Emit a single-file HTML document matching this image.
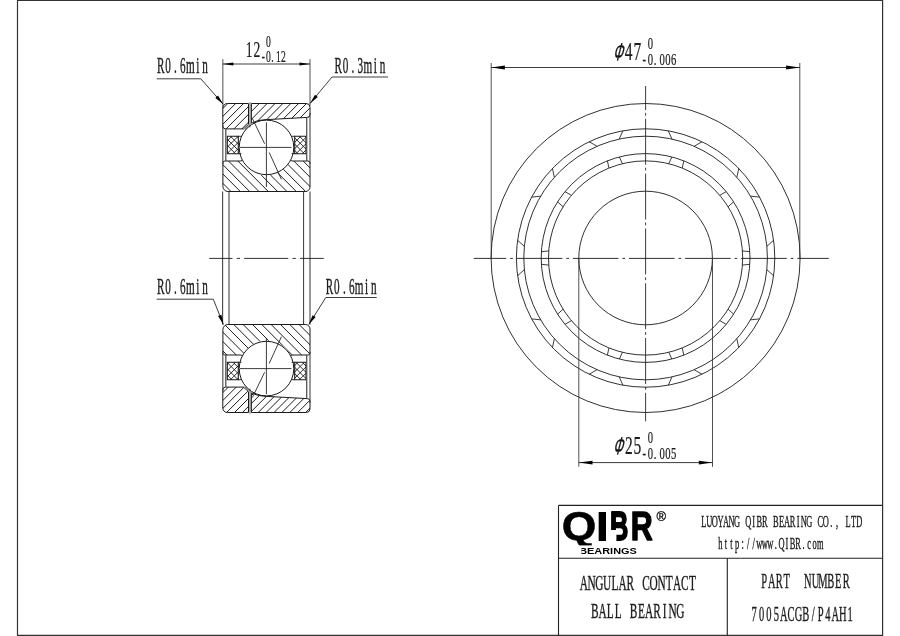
<!DOCTYPE html>
<html lang="en"><head><meta charset="utf-8"><title>7005ACGB/P4AH1 Angular Contact Ball Bearing</title>
<style>html,body{margin:0;padding:0;background:#fff;overflow:hidden}svg{display:block}text{white-space:pre}</style></head><body>
<svg width="900" height="636" viewBox="0 0 900 636" style="filter:grayscale(1)">
<rect width="900" height="636" fill="#fff"/>
<g id="frame">
<path d="M17.5,0.5 H882.6 V635.3 H17.5 Z" stroke="#333" stroke-width="1.2" fill="none" />
<line x1="558.5" y1="505.4" x2="882.6" y2="505.4" stroke="#222" stroke-width="1.1" />
<line x1="558.5" y1="505.4" x2="558.5" y2="635.3" stroke="#222" stroke-width="1.1" />
<line x1="558.5" y1="558.3" x2="882.6" y2="558.3" stroke="#222" stroke-width="1.1" />
<line x1="727.3" y1="558.3" x2="727.3" y2="635.3" stroke="#222" stroke-width="1.1" />
</g>
<g id="side">
<defs><clipPath id="cot"><path d="M222.8,108 A4.5,4.5 0 0 1 227.3,103.5 H248.5 V124.3 L243.5,128.9 H225.6 A2.8,2.8 0 0 1 222.8,126.1 Z M251.4,103.5 H306.2 A3.8,3.8 0 0 1 310,107.3 V114.6 A2.8,2.8 0 0 1 307.2,117.4 L263.5,119.8 A29,29 0 0 0 251.4,123.2 Z"/></clipPath><clipPath id="cit"><path d="M222.9,163 A2,2 0 0 1 224.9,161 H240.2 L242.2,160.6 A27.3,27.3 0 0 0 290.8,160.6 L292.8,161 H308 A2,2 0 0 1 310,163 V187 A4.5,4.5 0 0 1 305.5,191.5 H227.9 A5,5 0 0 1 222.9,186.5 Z"/></clipPath><clipPath id="cct"><path d="M227.3,136.3 H238.3 V153.7 H227.3 Z M294.7,136.3 H306 V153.7 H294.7 Z"/></clipPath></defs>
<g clip-path="url(#cot)" stroke="#111" stroke-width="0.95">
<line x1="215.59" y1="100" x2="183.59" y2="132"/>
<line x1="223.46" y1="100" x2="191.46" y2="132"/>
<line x1="231.33" y1="100" x2="199.33" y2="132"/>
<line x1="239.2" y1="100" x2="207.2" y2="132"/>
<line x1="247.07" y1="100" x2="215.07" y2="132"/>
<line x1="254.94" y1="100" x2="222.94" y2="132"/>
<line x1="262.81" y1="100" x2="230.81" y2="132"/>
<line x1="270.68" y1="100" x2="238.68" y2="132"/>
<line x1="278.55" y1="100" x2="246.55" y2="132"/>
<line x1="286.42" y1="100" x2="254.42" y2="132"/>
<line x1="294.29" y1="100" x2="262.29" y2="132"/>
<line x1="302.16" y1="100" x2="270.16" y2="132"/>
<line x1="310.03" y1="100" x2="278.03" y2="132"/>
<line x1="317.9" y1="100" x2="285.9" y2="132"/>
<line x1="325.77" y1="100" x2="293.77" y2="132"/>
<line x1="333.64" y1="100" x2="301.64" y2="132"/>
<line x1="341.51" y1="100" x2="309.51" y2="132"/>
</g>
<g clip-path="url(#cit)" stroke="#111" stroke-width="0.95">
<line x1="178.84" y1="158" x2="214.84" y2="194"/>
<line x1="188.17" y1="158" x2="224.17" y2="194"/>
<line x1="197.5" y1="158" x2="233.5" y2="194"/>
<line x1="206.83" y1="158" x2="242.83" y2="194"/>
<line x1="216.16" y1="158" x2="252.16" y2="194"/>
<line x1="225.49" y1="158" x2="261.49" y2="194"/>
<line x1="234.82" y1="158" x2="270.82" y2="194"/>
<line x1="244.15" y1="158" x2="280.15" y2="194"/>
<line x1="253.48" y1="158" x2="289.48" y2="194"/>
<line x1="262.81" y1="158" x2="298.81" y2="194"/>
<line x1="272.14" y1="158" x2="308.14" y2="194"/>
<line x1="281.47" y1="158" x2="317.47" y2="194"/>
<line x1="290.8" y1="158" x2="326.8" y2="194"/>
<line x1="300.13" y1="158" x2="336.13" y2="194"/>
<line x1="309.46" y1="158" x2="345.46" y2="194"/>
</g>
<g clip-path="url(#cct)" stroke="#1a1a1a" stroke-width="0.9">
<line x1="203.4" y1="134" x2="225.4" y2="156"/>
<line x1="221.8" y1="134" x2="199.8" y2="156"/>
<line x1="209.6" y1="134" x2="231.6" y2="156"/>
<line x1="228" y1="134" x2="206" y2="156"/>
<line x1="215.8" y1="134" x2="237.8" y2="156"/>
<line x1="234.2" y1="134" x2="212.2" y2="156"/>
<line x1="222" y1="134" x2="244" y2="156"/>
<line x1="240.4" y1="134" x2="218.4" y2="156"/>
<line x1="228.2" y1="134" x2="250.2" y2="156"/>
<line x1="246.6" y1="134" x2="224.6" y2="156"/>
<line x1="234.4" y1="134" x2="256.4" y2="156"/>
<line x1="252.8" y1="134" x2="230.8" y2="156"/>
<line x1="240.6" y1="134" x2="262.6" y2="156"/>
<line x1="259" y1="134" x2="237" y2="156"/>
<line x1="246.8" y1="134" x2="268.8" y2="156"/>
<line x1="265.2" y1="134" x2="243.2" y2="156"/>
<line x1="253" y1="134" x2="275" y2="156"/>
<line x1="271.4" y1="134" x2="249.4" y2="156"/>
<line x1="259.2" y1="134" x2="281.2" y2="156"/>
<line x1="265.3" y1="134" x2="243.3" y2="156"/>
<line x1="253.1" y1="134" x2="275.1" y2="156"/>
<line x1="271.6" y1="134" x2="249.6" y2="156"/>
<line x1="259.4" y1="134" x2="281.4" y2="156"/>
<line x1="277.9" y1="134" x2="255.9" y2="156"/>
<line x1="265.7" y1="134" x2="287.7" y2="156"/>
<line x1="284.2" y1="134" x2="262.2" y2="156"/>
<line x1="272" y1="134" x2="294" y2="156"/>
<line x1="290.5" y1="134" x2="268.5" y2="156"/>
<line x1="278.3" y1="134" x2="300.3" y2="156"/>
<line x1="296.8" y1="134" x2="274.8" y2="156"/>
<line x1="284.6" y1="134" x2="306.6" y2="156"/>
<line x1="303.1" y1="134" x2="281.1" y2="156"/>
<line x1="290.9" y1="134" x2="312.9" y2="156"/>
<line x1="309.4" y1="134" x2="287.4" y2="156"/>
<line x1="297.2" y1="134" x2="319.2" y2="156"/>
<line x1="315.7" y1="134" x2="293.7" y2="156"/>
<line x1="303.5" y1="134" x2="325.5" y2="156"/>
<line x1="322" y1="134" x2="300" y2="156"/>
<line x1="309.8" y1="134" x2="331.8" y2="156"/>
<line x1="328.3" y1="134" x2="306.3" y2="156"/>
</g>
<g fill="none" stroke="#1a1a1a" stroke-width="1">
<path d="M222.8,108 A4.5,4.5 0 0 1 227.3,103.5 H248.5 V124.3 L243.5,128.9 H225.6 A2.8,2.8 0 0 1 222.8,126.1 Z"/><path d="M251.4,103.5 H306.2 A3.8,3.8 0 0 1 310,107.3 V114.6 A2.8,2.8 0 0 1 307.2,117.4 L263.5,119.8 A29,29 0 0 0 251.4,123.2 Z"/><path d="M242.2,160.6 L240.2,161 H224.9 A2,2 0 0 0 222.9,163 V186.5 A5,5 0 0 0 227.9,191.5 H305.5 A4.5,4.5 0 0 0 310,187 V163 A2,2 0 0 0 308,161 H292.8 L290.8,160.6"/>
<path d="M227.3,136.3 H238.3 V153.7 H227.3 Z" stroke-width="1.1"/><path d="M294.7,136.3 H306 V153.7 H294.7 Z" stroke-width="1.1"/>
<path d="M238.3,136.3 H241.4 M238.3,153.7 H241.4 M291.6,136.3 H294.7 M291.6,153.7 H294.7" stroke-width="0.9"/>
<path d="M225.8,128.9 V161 M306.7,117.4 V161" stroke="#555" stroke-width="1.3"/>
<path d="M222.85,125 V164 M310,113 V164" stroke="#333" stroke-width="1"/>
<path d="M250,102.3 V127.4" stroke-width="0.7"/>
<path d="M244.6,129.6 L249.4,125.2" stroke-width="0.7"/>
<circle cx="266.5" cy="147.4" r="27.3"/>
<path d="M240,147.4 H291.5 M266.4,122.3 V187" stroke-width="0.85"/>
<path d="M252.4,118.5 L264.6,143.7 M269.2,152.5 L281.4,179.3" stroke-width="0.85"/>
</g>
<defs><clipPath id="cob"><path d="M222.8,108 A4.5,4.5 0 0 1 227.3,103.5 H248.5 V124.3 L243.5,128.9 H225.6 A2.8,2.8 0 0 1 222.8,126.1 Z M251.4,103.5 H306.2 A3.8,3.8 0 0 1 310,107.3 V114.6 A2.8,2.8 0 0 1 307.2,117.4 L263.5,119.8 A29,29 0 0 0 251.4,123.2 Z" transform="translate(0,516) scale(1,-1)"/></clipPath><clipPath id="cib"><path d="M222.9,163 A2,2 0 0 1 224.9,161 H240.2 L242.2,160.6 A27.3,27.3 0 0 0 290.8,160.6 L292.8,161 H308 A2,2 0 0 1 310,163 V187 A4.5,4.5 0 0 1 305.5,191.5 H227.9 A5,5 0 0 1 222.9,186.5 Z" transform="translate(0,516) scale(1,-1)"/></clipPath><clipPath id="ccb"><path d="M227.3,136.3 H238.3 V153.7 H227.3 Z M294.7,136.3 H306 V153.7 H294.7 Z" transform="translate(0,516) scale(1,-1)"/></clipPath></defs>
<g clip-path="url(#cob)" stroke="#111" stroke-width="0.95">
<line x1="215.6" y1="384" x2="183.6" y2="416"/>
<line x1="223.5" y1="384" x2="191.5" y2="416"/>
<line x1="231.4" y1="384" x2="199.4" y2="416"/>
<line x1="239.3" y1="384" x2="207.3" y2="416"/>
<line x1="247.2" y1="384" x2="215.2" y2="416"/>
<line x1="255.1" y1="384" x2="223.1" y2="416"/>
<line x1="263" y1="384" x2="231" y2="416"/>
<line x1="270.9" y1="384" x2="238.9" y2="416"/>
<line x1="278.8" y1="384" x2="246.8" y2="416"/>
<line x1="286.7" y1="384" x2="254.7" y2="416"/>
<line x1="294.6" y1="384" x2="262.6" y2="416"/>
<line x1="302.5" y1="384" x2="270.5" y2="416"/>
<line x1="310.4" y1="384" x2="278.4" y2="416"/>
<line x1="318.3" y1="384" x2="286.3" y2="416"/>
<line x1="326.2" y1="384" x2="294.2" y2="416"/>
<line x1="334.1" y1="384" x2="302.1" y2="416"/>
<line x1="342" y1="384" x2="310" y2="416"/>
</g>
<g clip-path="url(#cib)" stroke="#111" stroke-width="0.95">
<line x1="184.65" y1="322" x2="220.65" y2="358"/>
<line x1="193.98" y1="322" x2="229.98" y2="358"/>
<line x1="203.31" y1="322" x2="239.31" y2="358"/>
<line x1="212.64" y1="322" x2="248.64" y2="358"/>
<line x1="221.97" y1="322" x2="257.97" y2="358"/>
<line x1="231.3" y1="322" x2="267.3" y2="358"/>
<line x1="240.63" y1="322" x2="276.63" y2="358"/>
<line x1="249.96" y1="322" x2="285.96" y2="358"/>
<line x1="259.29" y1="322" x2="295.29" y2="358"/>
<line x1="268.62" y1="322" x2="304.62" y2="358"/>
<line x1="277.95" y1="322" x2="313.95" y2="358"/>
<line x1="287.28" y1="322" x2="323.28" y2="358"/>
<line x1="296.61" y1="322" x2="332.61" y2="358"/>
<line x1="305.94" y1="322" x2="341.94" y2="358"/>
</g>
<g clip-path="url(#ccb)" stroke="#1a1a1a" stroke-width="0.9">
<line x1="203.4" y1="382" x2="225.4" y2="360"/>
<line x1="221.8" y1="382" x2="199.8" y2="360"/>
<line x1="209.6" y1="382" x2="231.6" y2="360"/>
<line x1="228" y1="382" x2="206" y2="360"/>
<line x1="215.8" y1="382" x2="237.8" y2="360"/>
<line x1="234.2" y1="382" x2="212.2" y2="360"/>
<line x1="222" y1="382" x2="244" y2="360"/>
<line x1="240.4" y1="382" x2="218.4" y2="360"/>
<line x1="228.2" y1="382" x2="250.2" y2="360"/>
<line x1="246.6" y1="382" x2="224.6" y2="360"/>
<line x1="234.4" y1="382" x2="256.4" y2="360"/>
<line x1="252.8" y1="382" x2="230.8" y2="360"/>
<line x1="240.6" y1="382" x2="262.6" y2="360"/>
<line x1="259" y1="382" x2="237" y2="360"/>
<line x1="246.8" y1="382" x2="268.8" y2="360"/>
<line x1="265.2" y1="382" x2="243.2" y2="360"/>
<line x1="253" y1="382" x2="275" y2="360"/>
<line x1="271.4" y1="382" x2="249.4" y2="360"/>
<line x1="259.2" y1="382" x2="281.2" y2="360"/>
<line x1="265.3" y1="382" x2="243.3" y2="360"/>
<line x1="253.1" y1="382" x2="275.1" y2="360"/>
<line x1="271.6" y1="382" x2="249.6" y2="360"/>
<line x1="259.4" y1="382" x2="281.4" y2="360"/>
<line x1="277.9" y1="382" x2="255.9" y2="360"/>
<line x1="265.7" y1="382" x2="287.7" y2="360"/>
<line x1="284.2" y1="382" x2="262.2" y2="360"/>
<line x1="272" y1="382" x2="294" y2="360"/>
<line x1="290.5" y1="382" x2="268.5" y2="360"/>
<line x1="278.3" y1="382" x2="300.3" y2="360"/>
<line x1="296.8" y1="382" x2="274.8" y2="360"/>
<line x1="284.6" y1="382" x2="306.6" y2="360"/>
<line x1="303.1" y1="382" x2="281.1" y2="360"/>
<line x1="290.9" y1="382" x2="312.9" y2="360"/>
<line x1="309.4" y1="382" x2="287.4" y2="360"/>
<line x1="297.2" y1="382" x2="319.2" y2="360"/>
<line x1="315.7" y1="382" x2="293.7" y2="360"/>
<line x1="303.5" y1="382" x2="325.5" y2="360"/>
<line x1="322" y1="382" x2="300" y2="360"/>
<line x1="309.8" y1="382" x2="331.8" y2="360"/>
<line x1="328.3" y1="382" x2="306.3" y2="360"/>
</g>
<g transform="translate(0,516) scale(1,-1)" fill="none" stroke="#1a1a1a" stroke-width="1">
<path d="M222.8,108 A4.5,4.5 0 0 1 227.3,103.5 H248.5 V124.3 L243.5,128.9 H225.6 A2.8,2.8 0 0 1 222.8,126.1 Z"/><path d="M251.4,103.5 H306.2 A3.8,3.8 0 0 1 310,107.3 V114.6 A2.8,2.8 0 0 1 307.2,117.4 L263.5,119.8 A29,29 0 0 0 251.4,123.2 Z"/><path d="M242.2,160.6 L240.2,161 H224.9 A2,2 0 0 0 222.9,163 V186.5 A5,5 0 0 0 227.9,191.5 H305.5 A4.5,4.5 0 0 0 310,187 V163 A2,2 0 0 0 308,161 H292.8 L290.8,160.6"/>
<path d="M227.3,136.3 H238.3 V153.7 H227.3 Z" stroke-width="1.1"/><path d="M294.7,136.3 H306 V153.7 H294.7 Z" stroke-width="1.1"/>
<path d="M238.3,136.3 H241.4 M238.3,153.7 H241.4 M291.6,136.3 H294.7 M291.6,153.7 H294.7" stroke-width="0.9"/>
<path d="M225.8,128.9 V161 M306.7,117.4 V161" stroke="#555" stroke-width="1.3"/>
<path d="M222.85,125 V164 M310,113 V164" stroke="#333" stroke-width="1"/>
<path d="M250,102.3 V127.4" stroke-width="0.7"/>
<path d="M244.6,129.6 L249.4,125.2" stroke-width="0.7"/>
<circle cx="266.5" cy="147.4" r="27.3"/>
<path d="M240,147.4 H291.5 M266.4,121.8 V177.5" stroke-width="0.85"/>
<path d="M252.4,118.5 L264.6,143.7 M269.2,152.5 L281.4,179.3" stroke-width="0.85"/>
</g>
<line x1="222.65" y1="191.5" x2="222.65" y2="324.5" stroke="#333" stroke-width="1.0" />
<line x1="229" y1="191.5" x2="229" y2="324.5" stroke="#333" stroke-width="1.0" />
<line x1="303.6" y1="191.5" x2="303.6" y2="324.5" stroke="#333" stroke-width="1.0" />
<line x1="310" y1="191.5" x2="310" y2="324.5" stroke="#333" stroke-width="1.0" />
<path d="M209.2,258.4 H232.5 M236.7,258.4 H240 M244.2,258.4 H288.3 M292.5,258.4 H295.8 M300,258.4 H323.8" stroke="#1a1a1a" stroke-width="0.9" fill="none"/>
<line x1="222.85" y1="59.2" x2="222.85" y2="108" stroke="#333" stroke-width="0.85" />
<line x1="310" y1="59.2" x2="310" y2="106" stroke="#333" stroke-width="0.85" />
<line x1="222.85" y1="64" x2="310" y2="64" stroke="#1a1a1a" stroke-width="0.85" />
<polygon points="222.85,64 233.35,62.4 233.35,65.6" fill="#000"/>
<polygon points="310,64 299.5,65.6 299.5,62.4" fill="#000"/>
<line x1="156.7" y1="78.8" x2="200.8" y2="78.8" stroke="#1a1a1a" stroke-width="0.85" />
<line x1="200.8" y1="78.8" x2="223.3" y2="104.3" stroke="#1a1a1a" stroke-width="0.85" />
<polygon points="223.3,104.3 215.33,97.99 218.03,95.61" fill="#000"/>
<line x1="332" y1="77" x2="388" y2="77" stroke="#1a1a1a" stroke-width="0.85" />
<line x1="332" y1="77" x2="310" y2="103.5" stroke="#1a1a1a" stroke-width="0.85" />
<polygon points="310,103.5 315,94.66 317.77,96.96" fill="#000"/>
<line x1="156.7" y1="299.2" x2="213.3" y2="299.2" stroke="#1a1a1a" stroke-width="0.85" />
<line x1="213.3" y1="299.2" x2="223.4" y2="324.6" stroke="#1a1a1a" stroke-width="0.85" />
<polygon points="223.4,324.6 218.03,315.97 221.38,314.64" fill="#000"/>
<line x1="325.8" y1="297.5" x2="376.7" y2="297.5" stroke="#1a1a1a" stroke-width="0.85" />
<line x1="325.8" y1="297.5" x2="308.8" y2="324.6" stroke="#1a1a1a" stroke-width="0.85" />
<polygon points="308.8,324.6 312.59,315.17 315.64,317.09" fill="#000"/>
</g>
<g id="front">
<circle cx="645.6" cy="258" r="154.5" stroke="#1a1a1a" stroke-width="0.9" fill="none"/>
<circle cx="645.6" cy="258" r="129.2" stroke="#1a1a1a" stroke-width="0.9" fill="none"/>
<circle cx="645.6" cy="258" r="121.8" stroke="#1a1a1a" stroke-width="0.9" fill="none"/>
<circle cx="645.6" cy="258" r="104.4" stroke="#1a1a1a" stroke-width="0.9" fill="none"/>
<circle cx="645.6" cy="258" r="97.1" stroke="#1a1a1a" stroke-width="0.9" fill="none"/>
<circle cx="645.6" cy="258" r="66.8" stroke="#1a1a1a" stroke-width="0.9" fill="none"/>
<path d="M622.9,130.81 L619.2,139.1 M619.4,156.94 L622.4,163.71 M668.3,130.81 L672,139.1 M671.8,156.94 L668.8,163.71 M702,141.76 L694.13,146.29 M683.8,160.84 L682.25,168.08 M738.73,168.44 L736.85,177.32 M726.2,191.64 L719.79,195.36 M759.55,197.11 L750.53,196.15 M733.62,201.85 L728.1,206.8 M773.58,240.29 L766.84,246.36 M749.81,251.69 L742.44,250.93 M773.58,275.71 L766.84,269.64 M749.81,264.31 L742.44,265.07 M759.55,318.89 L750.53,319.85 M733.62,314.15 L728.1,309.2 M738.73,347.56 L736.85,338.68 M726.2,324.36 L719.79,320.64 M702,374.24 L694.13,369.71 M683.8,355.16 L682.25,347.92 M668.3,385.19 L672,376.9 M671.8,359.06 L668.8,352.29 M622.9,385.19 L619.2,376.9 M619.4,359.06 L622.4,352.29 M589.2,374.24 L597.07,369.71 M607.4,355.16 L608.95,347.92 M552.47,347.56 L554.35,338.68 M565,324.36 L571.41,320.64 M531.65,318.89 L540.67,319.85 M557.58,314.15 L563.1,309.2 M517.62,275.71 L524.36,269.64 M541.39,264.31 L548.76,265.07 M517.62,240.29 L524.36,246.36 M541.39,251.69 L548.76,250.93 M531.65,197.11 L540.67,196.15 M557.58,201.85 L563.1,206.8 M552.47,168.44 L554.35,177.32 M565,191.64 L571.41,195.36 M589.2,141.76 L597.07,146.29 M607.4,160.84 L608.95,168.08" stroke="#1a1a1a" stroke-width="0.85" fill="none" />
<line x1="473.8" y1="258.4" x2="828.8" y2="258.4" stroke="#1a1a1a" stroke-width="0.9" stroke-dasharray="45.6 3.9 2.7 3.9" stroke-dashoffset="13.1"/>
<line x1="645.6" y1="86" x2="645.6" y2="421.3" stroke="#1a1a1a" stroke-width="0.85" stroke-dasharray="46 2.9 2.8 3.1" stroke-dashoffset="22"/>
<line x1="491.2" y1="63" x2="491.2" y2="258" stroke="#333" stroke-width="0.85" />
<line x1="799.8" y1="63" x2="799.8" y2="258" stroke="#333" stroke-width="0.85" />
<line x1="491.2" y1="67.5" x2="799.8" y2="67.5" stroke="#1a1a1a" stroke-width="0.85" />
<polygon points="491.2,67.5 504.9,65.6 504.9,69.4" fill="#000"/>
<polygon points="799.8,67.5 786.1,69.4 786.1,65.6" fill="#000"/>
<line x1="578.8" y1="258" x2="578.8" y2="466.8" stroke="#333" stroke-width="0.85" />
<line x1="712.5" y1="258" x2="712.5" y2="466.8" stroke="#333" stroke-width="0.85" />
<line x1="578.8" y1="462.6" x2="712.5" y2="462.6" stroke="#1a1a1a" stroke-width="0.85" />
<polygon points="578.8,462.6 592.5,460.7 592.5,464.5" fill="#000"/>
<polygon points="712.5,462.6 698.8,464.5 698.8,460.7" fill="#000"/>
</g>
<g id="labels">
<text transform="translate(0,72.6) scale(0.5,1)" x="321.4 336.2 351 365.8 380.6 395.4 410.2" y="0" font-family="'Liberation Serif', serif" font-size="22.3" text-anchor="middle" fill="#1c1c1c" stroke="#1c1c1c" stroke-width="0.4" xml:space="preserve" >R0.6min</text>
<text transform="translate(0,73.3) scale(0.5,1)" x="676.4 691.2 706 720.8 735.6 750.4 765.2" y="0" font-family="'Liberation Serif', serif" font-size="22.3" text-anchor="middle" fill="#1c1c1c" stroke="#1c1c1c" stroke-width="0.4" xml:space="preserve" >R0.3min</text>
<text transform="translate(0,293.8) scale(0.5,1)" x="321.4 336.2 351 365.8 380.6 395.4 410.2" y="0" font-family="'Liberation Serif', serif" font-size="22.3" text-anchor="middle" fill="#1c1c1c" stroke="#1c1c1c" stroke-width="0.4" xml:space="preserve" >R0.6min</text>
<text transform="translate(0,293.8) scale(0.5,1)" x="659 673.8 688.6 703.4 718.2 733 747.8" y="0" font-family="'Liberation Serif', serif" font-size="22.3" text-anchor="middle" fill="#1c1c1c" stroke="#1c1c1c" stroke-width="0.4" xml:space="preserve" >R0.6min</text>
<text transform="translate(0,56.9) scale(0.61,1)" x="408.52 421.31" y="0" font-family="'Liberation Serif', serif" font-size="22.3" text-anchor="middle" fill="#1c1c1c" stroke="#1c1c1c" stroke-width="0.25" xml:space="preserve" >12</text>
<text transform="translate(0,47.2) scale(0.61,1)" x="440.16" y="0" font-family="'Liberation Serif', serif" font-size="15.7" text-anchor="middle" fill="#1c1c1c" stroke="#1c1c1c" stroke-width="0.25" xml:space="preserve" >0</text>
<text transform="translate(0,61.6) scale(0.61,1)" x="431.8 440.16 446.56 456.39 464.75" y="0" font-family="'Liberation Serif', serif" font-size="15.7" text-anchor="middle" fill="#1c1c1c" stroke="#1c1c1c" stroke-width="0.25" xml:space="preserve" >-0.12</text>
<text transform="translate(612.7,59.9) scale(0.5,1) skewX(-27)" font-family="'Liberation Sans', sans-serif" font-size="24.2" fill="#111" stroke="#111" stroke-width="0.5">Φ</text>
<text transform="translate(0,59.6) scale(0.61,1)" x="1030.66 1044.92" y="0" font-family="'Liberation Serif', serif" font-size="25.4" text-anchor="middle" fill="#1c1c1c" stroke="#1c1c1c" stroke-width="0.25" xml:space="preserve" >47</text>
<text transform="translate(0,48.8) scale(0.61,1)" x="1066.23" y="0" font-family="'Liberation Serif', serif" font-size="17.4" text-anchor="middle" fill="#1c1c1c" stroke="#1c1c1c" stroke-width="0.25" xml:space="preserve" >0</text>
<text transform="translate(0,64.8) scale(0.61,1)" x="1056.39 1066.23 1073.77 1085.41 1094.92 1104.43" y="0" font-family="'Liberation Serif', serif" font-size="17.4" text-anchor="middle" fill="#1c1c1c" stroke="#1c1c1c" stroke-width="0.25" xml:space="preserve" >-0.006</text>
<text transform="translate(612.7,454.4) scale(0.5,1) skewX(-27)" font-family="'Liberation Sans', sans-serif" font-size="24.2" fill="#111" stroke="#111" stroke-width="0.5">Φ</text>
<text transform="translate(0,454.1) scale(0.61,1)" x="1030.82 1044.92" y="0" font-family="'Liberation Serif', serif" font-size="25.4" text-anchor="middle" fill="#1c1c1c" stroke="#1c1c1c" stroke-width="0.25" xml:space="preserve" >25</text>
<text transform="translate(0,443.3) scale(0.61,1)" x="1066.23" y="0" font-family="'Liberation Serif', serif" font-size="17.4" text-anchor="middle" fill="#1c1c1c" stroke="#1c1c1c" stroke-width="0.25" xml:space="preserve" >0</text>
<text transform="translate(0,459.3) scale(0.61,1)" x="1056.39 1066.23 1073.77 1085.41 1094.92 1104.43" y="0" font-family="'Liberation Serif', serif" font-size="17.4" text-anchor="middle" fill="#1c1c1c" stroke="#1c1c1c" stroke-width="0.25" xml:space="preserve" >-0.005</text>
</g>
<g id="title">
<text y="541" font-family="'Liberation Sans', sans-serif" font-weight="bold" font-size="42.6" fill="#000" stroke="#000" stroke-linejoin="round"><tspan x="561.73" y="540.25" font-size="40.6" textLength="34.6" lengthAdjust="spacingAndGlyphs" stroke-width="0.5">Q</tspan><tspan x="595.3" y="541" textLength="14.2" lengthAdjust="spacingAndGlyphs" stroke-width="0">I</tspan><tspan x="609.9" y="540.1" font-size="40" textLength="18.35" lengthAdjust="spacingAndGlyphs" stroke-width="1.8">B</tspan><tspan x="630.67" y="540.3" font-size="40.55" textLength="21.96" lengthAdjust="spacingAndGlyphs" stroke-width="1.4">R</tspan></text>
<rect x="560" y="545.4" width="40" height="4" fill="#fff"/>
<rect x="608.5" y="530" width="7.9" height="13" fill="#fff"/>
<text x="661.3" y="520.6" font-family="'Liberation Sans', sans-serif" font-size="12.9" text-anchor="middle" fill="#000" stroke="#000" stroke-width="0.25">®</text>
<text x="579.2" y="553.5" font-family="'Liberation Sans', sans-serif" font-weight="bold" font-size="8.9" fill="#000" textLength="57.6" lengthAdjust="spacingAndGlyphs">BEARINGS</text>
<rect x="579" y="546" width="2.5" height="8.5" fill="#fff"/>
<text transform="translate(0,526.8) scale(0.5,1)" x="1407.55 1418.65 1429.75 1440.85 1451.95 1463.05 1474.15 1485.25 1496.35 1507.45 1518.55 1529.65 1540.75 1551.85 1562.95 1574.05 1585.15 1596.25 1607.35 1618.45 1629.55 1640.65 1651.75 1662.85 1673.95 1685.05 1696.15 1707.25 1718.35" y="0" font-family="'Liberation Serif', serif" font-size="16.8" text-anchor="middle" fill="#1c1c1c" stroke="#1c1c1c" stroke-width="0.4" xml:space="preserve" >LUOYANG QIBR BEARING CO., LTD</text>
<text transform="translate(0,549) scale(0.5,1)" x="1440.75 1451.85 1462.95 1474.05 1485.15 1496.25 1507.35 1518.45 1529.55 1540.65 1551.75 1562.85 1573.95 1585.05 1596.15 1607.25 1618.35 1629.45 1640.55" y="0" font-family="'Liberation Serif', serif" font-size="16.8" text-anchor="middle" fill="#1c1c1c" stroke="#1c1c1c" stroke-width="0.4" xml:space="preserve" >http://www.QIBR.com</text>
<text transform="translate(0,590) scale(0.52,1)" x="1122.66 1137.61 1152.55 1167.49 1182.43 1197.38 1212.32 1227.26 1242.2 1257.14 1272.09 1287.03 1301.97 1316.91 1331.86" y="0" font-family="'Liberation Serif', serif" font-size="21.8" text-anchor="middle" fill="#1c1c1c" stroke="#1c1c1c" stroke-width="0.4" xml:space="preserve" >ANGULAR CONTACT</text>
<text transform="translate(0,618.3) scale(0.52,1)" x="1143.82 1158.76 1173.7 1188.64 1203.59 1218.53 1233.47 1248.41 1263.36 1278.3 1293.24 1308.18" y="0" font-family="'Liberation Serif', serif" font-size="21.8" text-anchor="middle" fill="#1c1c1c" stroke="#1c1c1c" stroke-width="0.4" xml:space="preserve" >BALL BEARING</text>
<text transform="translate(0,587.5) scale(0.49,1)" x="1559.59 1574.9 1590.2 1605.31 1620.41 1634.69 1648.78 1664.49 1679.59 1695.31 1710.82 1726.94" y="0" font-family="'Liberation Serif', serif" font-size="21.4" text-anchor="middle" fill="#1c1c1c" stroke="#1c1c1c" stroke-width="0.4" xml:space="preserve" >PART  NUMBER</text>
<text transform="translate(0,621.3) scale(0.49,1)" x="1539.16 1554.21 1569.26 1584.31 1599.36 1614.41 1629.46 1644.52 1659.57 1674.62 1689.67 1704.72 1719.77 1734.82" y="0" font-family="'Liberation Serif', serif" font-size="21.4" text-anchor="middle" fill="#1c1c1c" stroke="#1c1c1c" stroke-width="0.4" xml:space="preserve" >7005ACGB/P4AH1</text>
</g>
</svg></body></html>
